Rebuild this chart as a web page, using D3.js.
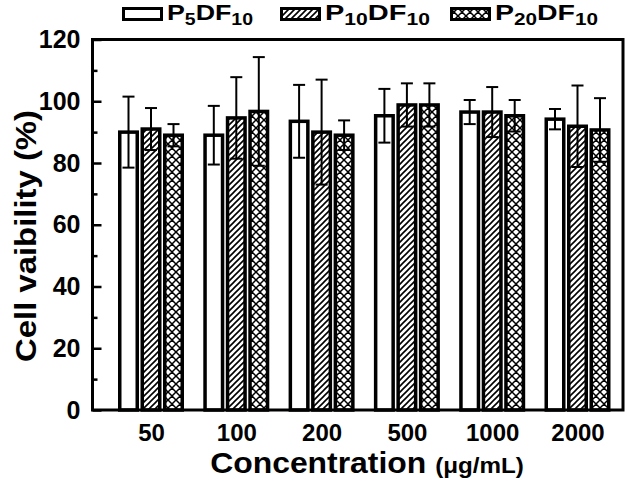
<!DOCTYPE html>
<html><head><meta charset="utf-8">
<script src="https://cdn.jsdelivr.net/npm/d3@7/dist/d3.min.js"></script>
<style>body{margin:0;background:#fff}text{font-family:"Liberation Sans",Arial,sans-serif;font-weight:bold;fill:#000}</style>
</head><body><svg id="c" width="630" height="485"></svg>
<script>
const categories = ["50","100","200","500","1000","2000"];
const seriesNames = ["P5DF10","P10DF10","P20DF10"];
const p5Values   = [90.0, 89.0, 93.5, 95.3, 96.5, 94.2];
const p5Errors   = [11.5, 9.5, 11.8, 8.7, 3.9, 3.3];
const p10Values  = [91.0, 94.6, 90.0, 98.8, 96.5, 91.9];
const p10Errors  = [6.8, 13.2, 17.0, 7.0, 8.1, 13.2];
const p20Values  = [89.0, 96.7, 89.0, 98.8, 95.3, 90.7];
const p20Errors  = [3.6, 17.6, 4.8, 7.0, 5.1, 10.3];
const yTicks = [0,20,40,60,80,100,120];
const yMinorTicks = [10,30,50,70,90,110];

const series = [
  {name:"P5DF10", main:"P", sub1:"5", mid:"DF", sub2:"10", values:p5Values, errors:p5Errors, fill:"#fff"},
  {name:"P10DF10", main:"P", sub1:"10", mid:"DF", sub2:"10", values:p10Values, errors:p10Errors, fill:"url(#hatch)"},
  {name:"P20DF10", main:"P", sub1:"20", mid:"DF", sub2:"10", values:p20Values, errors:p20Errors, fill:"url(#cross)"}
];

const svg = d3.select("#c");
const L=92.5, R=623, T=39.5, B=410;

const defs = svg.append("defs");
const h = defs.append("pattern").attr("id","hatch").attr("patternUnits","userSpaceOnUse").attr("width",6).attr("height",6);
h.append("rect").attr("width",6).attr("height",6).attr("fill","#fff");
h.append("path").attr("d","M-1,7 L7,-1 M-4,4 L4,-4 M2,10 L10,2").attr("stroke","#000").attr("stroke-width",1.6);
const c = defs.append("pattern").attr("id","cross").attr("patternUnits","userSpaceOnUse").attr("width",8).attr("height",8);
c.append("rect").attr("width",8).attr("height",8).attr("fill","#fff");
c.append("path").attr("d","M0,0 L8,8 M0,8 L8,0 M-4,4 L4,-4 M4,12 L12,4 M-4,4 L4,12 M4,-4 L12,4").attr("stroke","#000").attr("stroke-width",1.5);

const y = d3.scaleLinear().domain([0,120]).range([B,T]);
const x = d3.scalePoint().domain(categories).range([L+58.5, R-45.5]);
const xs = d3.scaleBand().domain(seriesNames).range([-33.75, 33.75]);
const barW = 17.5;

series.forEach((s)=>{
  svg.append("g").selectAll("rect").data(categories).join("rect")
    .attr("x",(d)=> x(d)+xs(s.name)+xs.bandwidth()/2-barW/2)
    .attr("y",(d,i)=> y(s.values[i]))
    .attr("width",barW)
    .attr("height",(d,i)=> B - y(s.values[i]))
    .attr("fill",s.fill).attr("stroke","#000").attr("stroke-width",3.5);
});
series.forEach((s)=>{
  const g = svg.append("g").attr("stroke","#000").attr("stroke-width",2);
  categories.forEach((d,i)=>{
    const cx = x(d)+xs(s.name)+xs.bandwidth()/2;
    const hi=y(s.values[i]+s.errors[i]), lo=y(s.values[i]-s.errors[i]);
    g.append("line").attr("x1",cx).attr("x2",cx).attr("y1",hi).attr("y2",lo);
    g.append("line").attr("x1",cx-6).attr("x2",cx+6).attr("y1",hi).attr("y2",hi);
    g.append("line").attr("x1",cx-6).attr("x2",cx+6).attr("y1",lo).attr("y2",lo);
  });
});

svg.append("rect").attr("x",L).attr("y",T).attr("width",R-L).attr("height",B-T)
  .attr("fill","none").attr("stroke","#000").attr("stroke-width",3);

const yAxis = d3.axisLeft(y).tickValues(yTicks).tickSizeInner(-9).tickSizeOuter(0).tickPadding(12);
const ya = svg.append("g").attr("transform",`translate(${L},0)`).call(yAxis);
ya.select(".domain").remove();
ya.selectAll(".tick line").attr("stroke-width",2.5);
ya.selectAll("text").style("font-size","25px");
const yMinor = d3.axisLeft(y).tickValues(yMinorTicks).tickSize(-5).tickFormat("");
const ym = svg.append("g").attr("transform",`translate(${L},0)`).call(yMinor);
ym.select(".domain").remove();
ym.selectAll(".tick line").attr("stroke-width",2.5);

const xAxis = d3.axisBottom(x).tickSize(0).tickPadding(14);
const xa = svg.append("g").attr("transform",`translate(0,${B})`).call(xAxis);
xa.select(".domain").remove();
xa.selectAll("text").style("font-size","24px");

svg.append("text").attr("transform","translate(36,236) rotate(-90)").attr("text-anchor","middle")
  .style("font-size","29px").attr("textLength",252).attr("lengthAdjust","spacingAndGlyphs")
  .text("Cell vaibility (%)");
const xtg = svg.append("g").attr("transform","translate(367,473) scale(1.1,1)");
const xt = xtg.append("text").attr("x",0).attr("y",0).attr("text-anchor","middle").style("font-size","29px");
xt.append("tspan").text("Concentration ");
xt.append("tspan").style("font-size","22px").text("(μg/mL)");

const legX = [122, 280, 450];
const legTextW = [86, 105, 103];
series.forEach((s,i)=>{
  const g = svg.append("g").attr("transform",`translate(${legX[i]},0)`);
  g.append("rect").attr("x",1.5).attr("y",8.5).attr("width",38).attr("height",11)
    .attr("fill",s.fill).attr("stroke","#000").attr("stroke-width",3);
  const tg = g.append("g").attr("transform","translate(45,20)");
  const t = tg.append("text").attr("x",0).attr("y",0).style("font-size","22px");
  t.append("tspan").text(s.main);
  t.append("tspan").attr("dy",5).style("font-size","16px").text(s.sub1);
  t.append("tspan").attr("dy",-5).text(s.mid);
  t.append("tspan").attr("dy",5).style("font-size","16px").text(s.sub2);
  const w = t.node().getComputedTextLength();
  tg.attr("transform",`translate(45,20) scale(${legTextW[i]/w},1)`);
});
</script></body></html>
